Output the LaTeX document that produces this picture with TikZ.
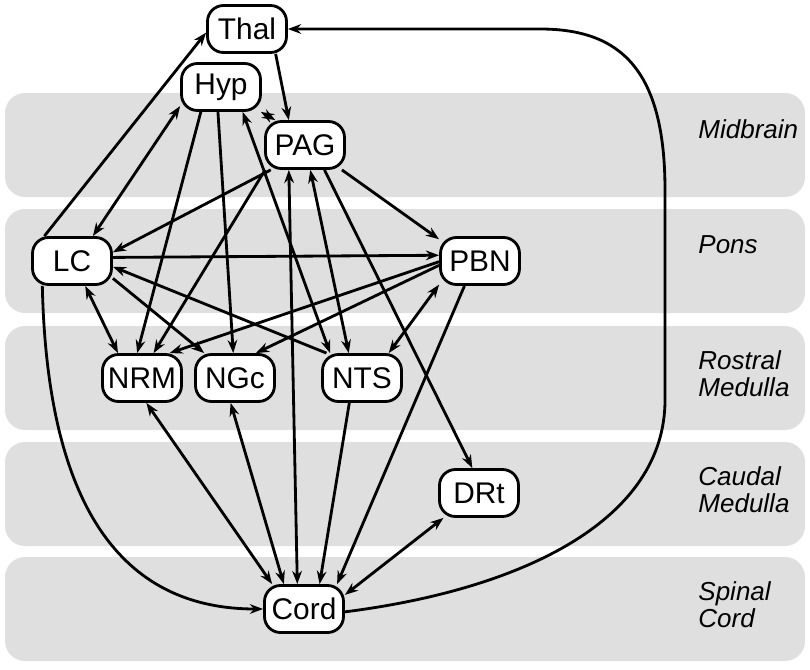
\documentclass[tikz,border=0pt]{standalone}
\usepackage{fontspec}
\setmainfont{Liberation Sans}
\usetikzlibrary{arrows.meta}
\definecolor{bandgray}{gray}{0.875}

\begin{document}
\begin{tikzpicture}[>= {Stealth[length = 7.5pt, width = 5.5pt]}, line width = 1.6pt,
    region/.style = {fill = bandgray, rounded corners = .4cm},
    area/.style = {anchor = north west, align = left, inner sep = 0pt,
      font = \fontsize{14.8}{15.5}\selectfont\itshape},
    nucleus/.style = {draw, fill = white, rounded corners = .32cm,
      minimum width = 1.58cm, minimum height = .94cm, inner sep = 2pt,
      font = \fontsize{17}{17}\selectfont}]
  \useasboundingbox (0,0) rectangle (16.2,13.38);
  \fill [region] (.1,9.44) rectangle (16.1,11.52);
  \fill [region] (.1,7.12) rectangle (16.1,9.2);
  \fill [region] (.1,4.78) rectangle (16.1,6.86);
  \fill [region] (.1,2.46) rectangle (16.1,4.54);
  \fill [region] (.1,.16) rectangle (16.1,2.24);
  \node [area] (midbrain) at (13.94,11.02) {Midbrain};
  \node [area] (pons) at (13.94,8.70) {Pons};
  \node [area] (rostral) at (13.94,6.40) {Rostral\\Medulla};
  \node [area] (caudal) at (13.94,4.08) {Caudal\\Medulla};
  \node [area] (spinal) at (13.94,1.78) {Spinal\\Cord};

  \node [nucleus] (thal) at (4.94,12.80) {Thal};
  \node [nucleus] (hyp) at (4.42,11.64) {Hyp};
  \node [nucleus] (pag) at (6.10,10.48) {PAG};
  \node [nucleus] (lc) at (1.44,8.16) {LC};
  \node [nucleus] (pbn) at (9.60,8.16) {PBN};
  \node [nucleus] (nrm) at (2.84,5.82) {NRM};
  \node [nucleus] (ngc) at (4.70,5.82) {NGc};
  \node [nucleus] (nts) at (7.24,5.82) {NTS};
  \node [nucleus] (drt) at (9.58,3.52) {DRt};
  \node [nucleus] (cord) at (6.08,1.20) {Cord};

  \draw [->] (lc.138) -- (thal.185);
  \draw [<->] (lc.50) -- (hyp.205);
  \draw [->] (thal.-41) -- (pag.123);
  \draw [<->] (hyp.-32) -- (pag.140);
  \draw [->] (hyp.231) -- (nrm.101);
  \draw [->] (hyp.263) -- (ngc.94);
  \draw [<->] (hyp.-49) -- (nts.142);
  \draw [->] (pag.216) -- (lc.12);
  \draw [->] (pag.212) -- (nrm.65);
  \draw [<->] (pag.237) -- (cord.105);
  \draw [<->] (pag.-78) -- (nts.118);
  \draw [->] (pag.-52) -- (drt.105);
  \draw [->] (pag.-34) -- (pbn.152);
  \draw [->] (lc.5) -- (pbn.172);
  \draw [->] (nts.145) -- (lc.-8);
  \draw [->] (lc.-23) -- (ngc.141);
  \draw [<->] (lc.-62) -- (nrm.134);
  \draw [->] (lc.220) .. controls (.95,3) and (2.6,1.2) .. (cord.west);
  \draw [->] (pbn.181) -- (nrm.42);
  \draw [->] (pbn.186) -- (ngc.50);
  \draw [<->] (pbn.210) -- (nts.43);
  \draw [->] (pbn.238) -- (cord.37);
  \draw [->] (nts.243) -- (cord.58);
  \draw [<->] (nrm.-80) -- (cord.142);
  \draw [<->] (ngc.260) -- (cord.129);
  \draw [<->] (drt.215) -- (cord.19);
  \draw [->] (cord.-4) .. controls (10.5,1.6) and (13.3,3) .. (13.3,5.38)
    -- (13.3,9.58) .. controls (13.3,12) and (12.4,12.8) .. (10.8,12.8)
    -- (thal.east);
\end{tikzpicture}
\end{document}
